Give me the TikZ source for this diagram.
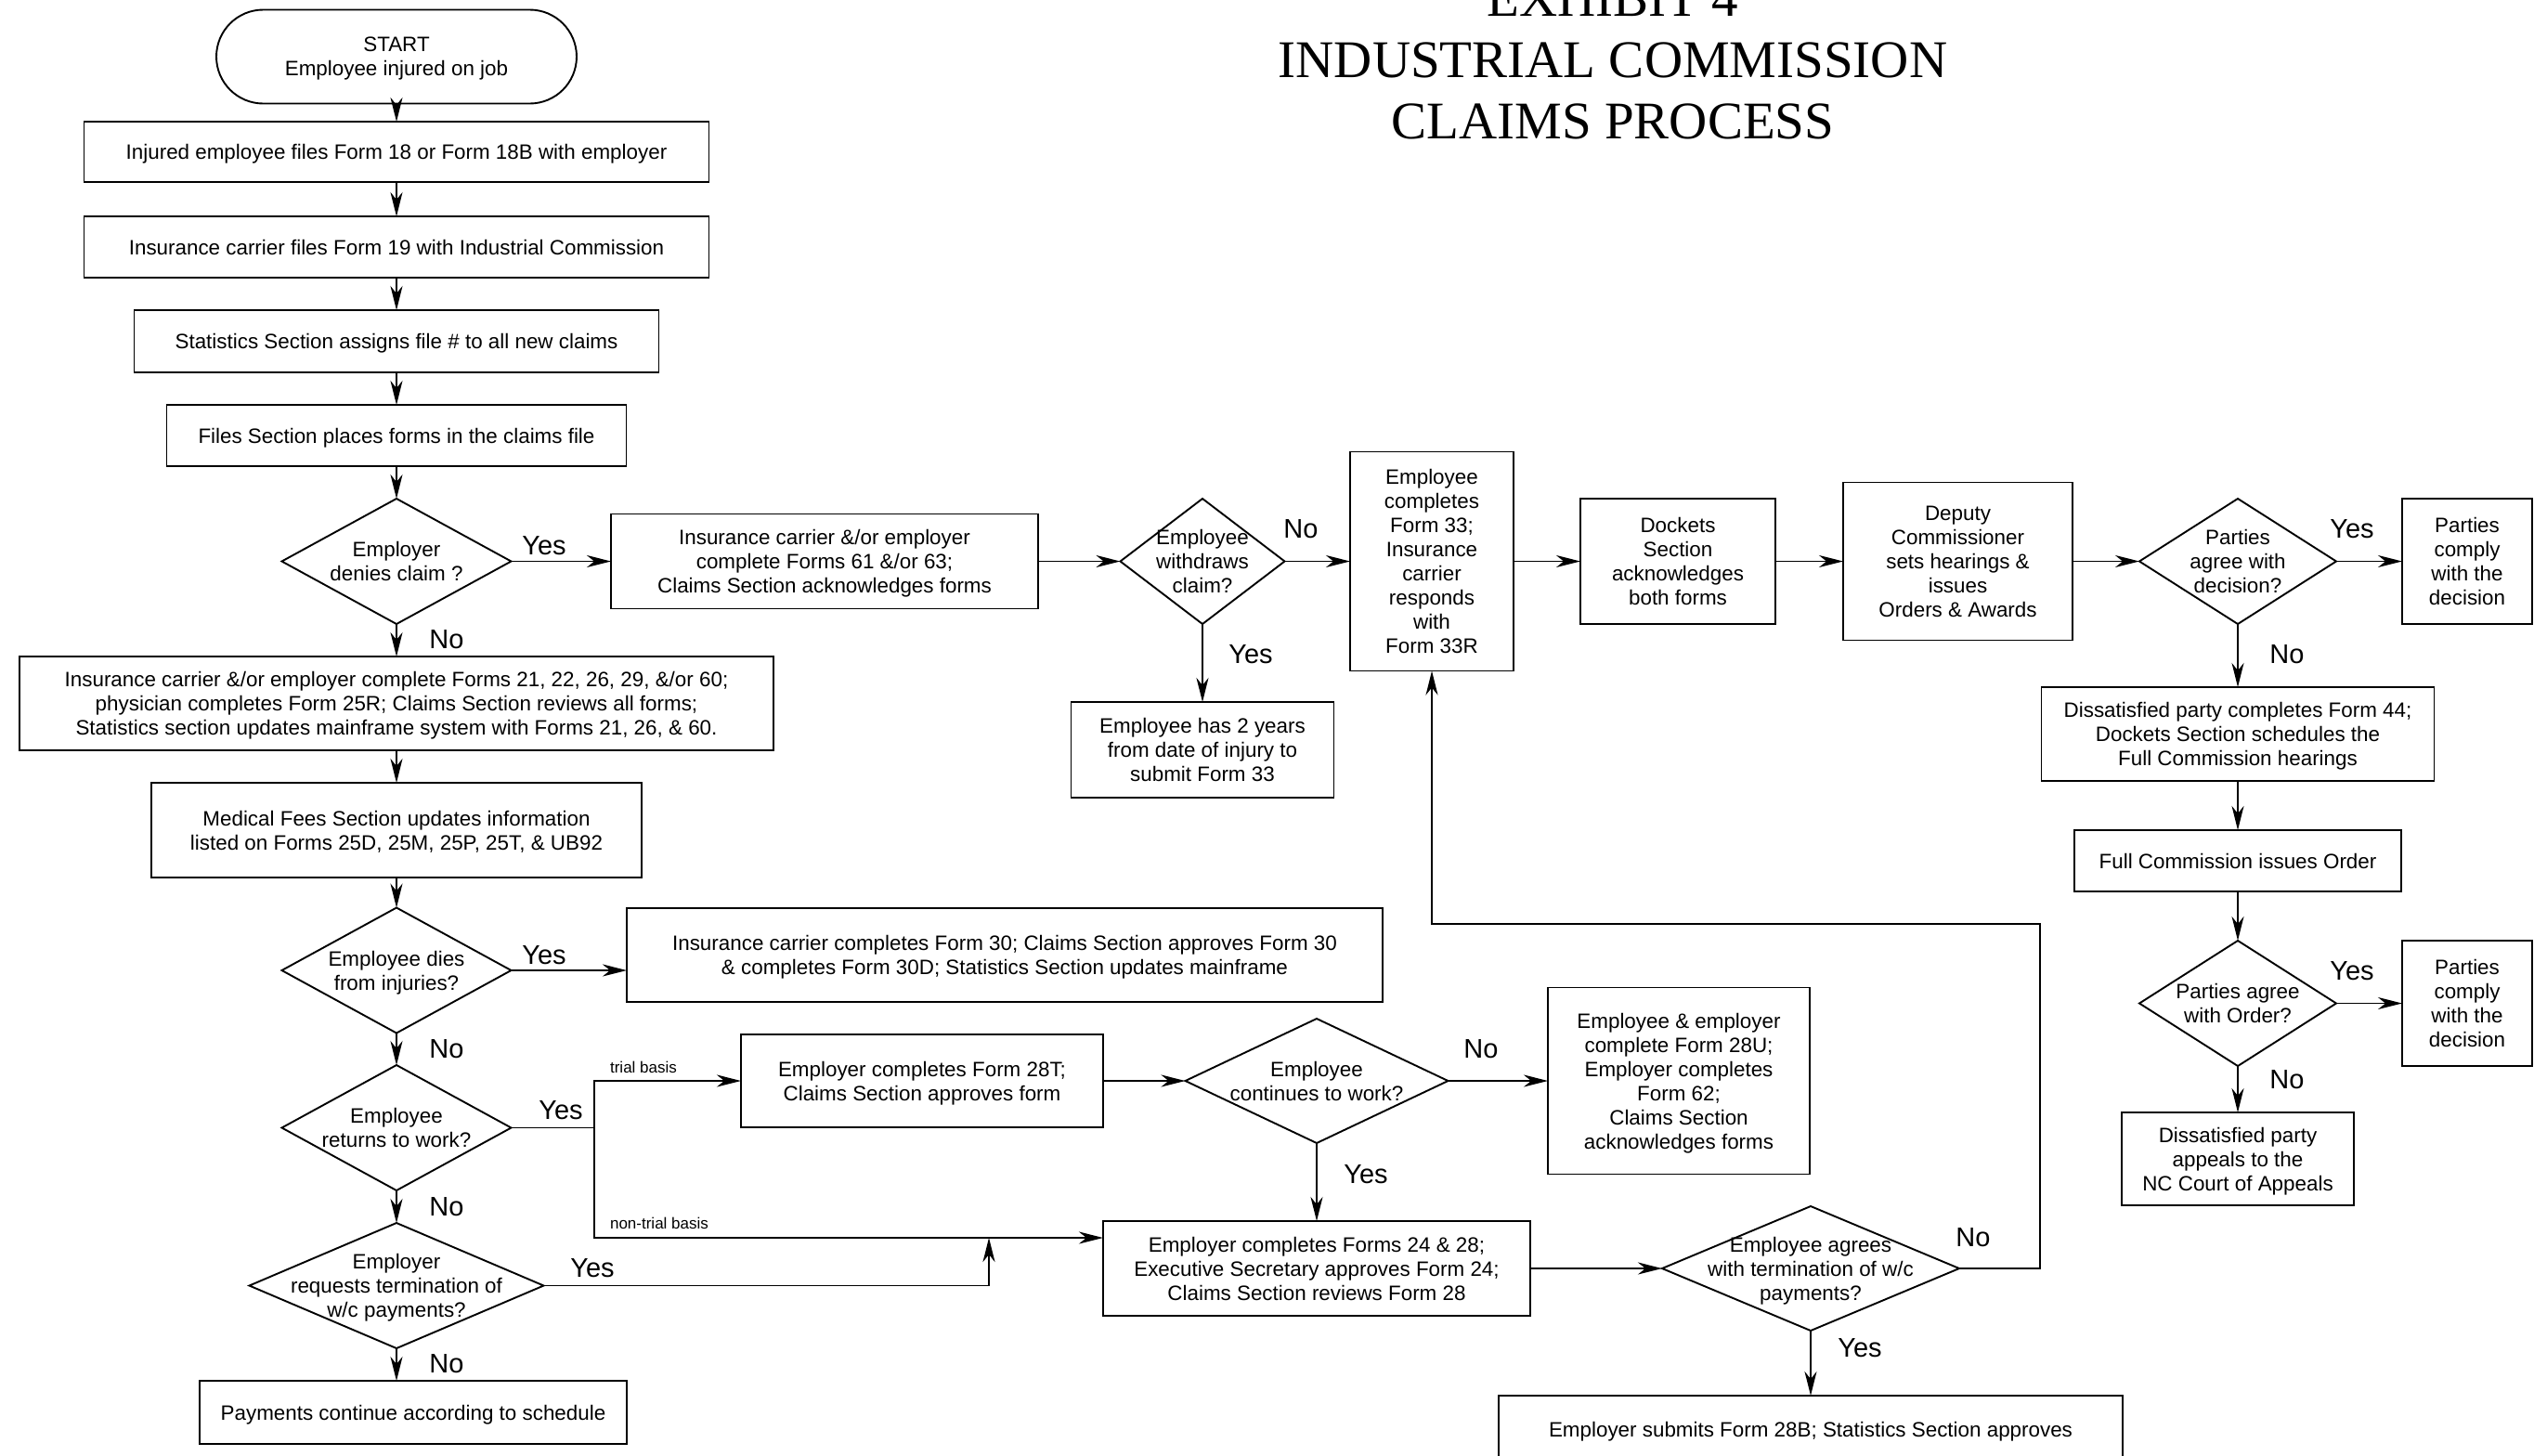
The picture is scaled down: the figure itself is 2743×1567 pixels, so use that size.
\documentclass[tikz,border=0pt]{standalone}
\usepackage{fontspec}
\setmainfont{Liberation Sans}
\newfontfamily\titlefont{Liberation Serif}
\usetikzlibrary{shapes.geometric,shapes.misc,arrows.meta}
\newcommand{\dtxt}[1]{\raisebox{-0.36em}[0pt][0pt]{\makebox[0pt]{\begin{tabular}{@{}c@{}}#1\end{tabular}}}}

\begin{document}
\begin{tikzpicture}[x=1pt, y=-1pt, line width=1.9pt,
  every node/.style={font=\fontsize{22.4}{26}\selectfont, inner sep=0pt, outer sep=0pt},
  box/.style={draw, rectangle, align=center, text depth=-3pt},
  decision/.style={draw, diamond},
  arr/.style={-{Stealth[length=26pt, width=13pt, inset=8pt]}},
  yn/.style={font=\fontsize{29}{34}\selectfont},
  basis/.style={font=\fontsize{17}{20}\selectfont}]
\useasboundingbox (0,0) rectangle (2743,1567);

\node[font=\titlefont\fontsize{57}{66}\selectfont, align=center] (title) at (1737,65)
  {EXHIBIT 4\\INDUSTRIAL COMMISSION\\CLAIMS PROCESS};

% left column
\node[draw, rounded rectangle, align=center, text depth=-3pt, minimum width=388, minimum height=101] (start) at (427,61)
  {START\\Employee injured on job};
\node[box, minimum width=673, minimum height=65] (form18) at (427,163.5)
  {Injured employee files Form 18 or Form 18B with employer};
\node[box, minimum width=673, minimum height=66] (form19) at (427,266)
  {Insurance carrier files Form 19 with Industrial Commission};
\node[box, minimum width=565, minimum height=67] (filenum) at (427,367.5)
  {Statistics Section assigns file \# to all new claims};
\node[box, minimum width=495, minimum height=66] (filesec) at (427,469)
  {Files Section places forms in the claims file};
\node[decision, minimum width=247, minimum height=135] (denies) at (427,604.5)
  {\dtxt{Employer\\denies claim ?}};
\node[box, minimum width=812, minimum height=101] (form21) at (427,757.5)
  {Insurance carrier \&/or employer complete Forms 21, 22, 26, 29, \&/or 60;\\
   physician completes Form 25R; Claims Section reviews all forms;\\
   Statistics section updates mainframe system with Forms 21, 26, \& 60.};
\node[box, minimum width=528, minimum height=102] (medfees) at (427,894)
  {Medical Fees Section updates information\\listed on Forms 25D, 25M, 25P, 25T, \& UB92};
\node[decision, minimum width=247, minimum height=135] (dies) at (427,1045)
  {\dtxt{Employee dies\\from injuries?}};
\node[decision, minimum width=247, minimum height=135] (returns) at (427,1214.5)
  {\dtxt{Employee\\returns to work?}};
\node[decision, minimum width=317, minimum height=135] (requests) at (427,1384.5)
  {\dtxt{Employer\\requests termination of\\w/c payments?}};
\node[box, minimum width=460, minimum height=68] (paycont) at (445,1521)
  {Payments continue according to schedule};

% top row
\node[box, minimum width=460, minimum height=102] (form61) at (888,604.5)
  {Insurance carrier \&/or employer\\complete Forms 61 \&/or 63;\\Claims Section acknowledges forms};
\node[decision, minimum width=177, minimum height=135] (withdraws) at (1295,604.5)
  {\dtxt{Employee\\withdraws\\claim?}};
\node[box, minimum width=283, minimum height=103] (twoyears) at (1295,807.5)
  {Employee has 2 years\\from date of injury to\\submit Form 33};
\node[box, minimum width=176, minimum height=236] (form33) at (1542,604.5)
  {Employee\\completes\\Form 33;\\Insurance\\carrier\\responds\\with\\Form 33R};
\node[box, minimum width=210, minimum height=135] (dockets) at (1807,604.5)
  {Dockets\\Section\\acknowledges\\both forms};
\node[box, minimum width=247, minimum height=170] (deputy) at (2108.5,604.5)
  {Deputy\\Commissioner\\sets hearings \&\\issues\\Orders \& Awards};
\node[decision, minimum width=212, minimum height=135] (agreedec) at (2410,604.5)
  {\dtxt{Parties\\agree with\\decision?}};
\node[box, minimum width=140, minimum height=135] (comply1) at (2657,604.5)
  {Parties\\comply\\with the\\decision};
\node[box, minimum width=423, minimum height=101] (form44) at (2410,790.5)
  {Dissatisfied party completes Form 44;\\Dockets Section schedules the\\Full Commission hearings};
\node[box, minimum width=352, minimum height=66] (fullord) at (2410,927)
  {Full Commission issues Order};
\node[decision, minimum width=212, minimum height=135] (agreeord) at (2410,1080.5)
  {\dtxt{Parties agree\\with Order?}};
\node[box, minimum width=140, minimum height=135] (comply2) at (2657,1080.5)
  {Parties\\comply\\with the\\decision};
\node[box, minimum width=250, minimum height=100] (appeals) at (2410,1248)
  {Dissatisfied party\\appeals to the\\NC Court of Appeals};

% lower middle
\node[box, minimum width=814, minimum height=101] (form30) at (1082,1028.5)
  {Insurance carrier completes Form 30; Claims Section approves Form 30\\
   \& completes Form 30D; Statistics Section updates mainframe};
\node[box, minimum width=390, minimum height=100] (form28t) at (993,1164)
  {Employer completes Form 28T;\\Claims Section approves form};
\node[decision, minimum width=283, minimum height=134] (continues) at (1418,1164)
  {\dtxt{Employee\\continues to work?}};
\node[box, minimum width=282, minimum height=201] (form28u) at (1808,1164)
  {Employee \& employer\\complete Form 28U;\\Employer completes\\Form 62;\\Claims Section\\acknowledges forms};
\node[box, minimum width=460, minimum height=102] (form24) at (1418,1366)
  {Employer completes Forms 24 \& 28;\\Executive Secretary approves Form 24;\\Claims Section reviews Form 28};
\node[decision, minimum width=320, minimum height=134] (agreeterm) at (1950,1366)
  {\dtxt{Employee agrees\\with termination of w/c\\payments?}};
\node[box, minimum width=672, minimum height=72] (form28b) at (1950,1539)
  {Employer submits Form 28B; Statistics Section approves};

% Yes / No labels
\foreach \n/\x/\y/\t in {y1/586/588/Yes, n1/481/689/No, n2/1401/570/No, y2/1347/705/Yes,
    y3/2533/570/Yes, n3/2463/705/No, y4/2533/1046/Yes, n4/2463/1163/No,
    y5/586/1029/Yes, n5/481/1130/No, y6/604/1196/Yes, n6/481/1300/No,
    y7/638/1366/Yes, n7/481/1469/No, n8/1595/1130/No, y8/1471/1265/Yes,
    n9/2125/1333/No, y9/2003/1452/Yes} {
  \node[yn] (\n) at (\x,\y) {\t};
}
\node[basis] (tb) at (693,1149) {trial basis};
\node[basis] (ntb) at (710,1317) {non-trial basis};

\coordinate (split) at (640,1214.5);
\coordinate (join) at (1065,1333);
\coordinate (back) at (2197,995);

% connectors
\foreach \a/\b in {start/form18, form18/form19, form19/filenum, filenum/filesec,
    filesec/denies, denies/form61, form61/withdraws, withdraws/form33, withdraws/twoyears,
    form33/dockets, dockets/deputy, deputy/agreedec, agreedec/comply1, agreedec/form44,
    form44/fullord, fullord/agreeord, agreeord/comply2, agreeord/appeals,
    denies/form21, form21/medfees, medfees/dies, dies/returns, returns/requests,
    form28t/continues, continues/form28u, continues/form24, form24/agreeterm,
    agreeterm/form28b} {
  \draw[arr] (\a) -- (\b);
}
\draw[arr] (dies) -- (dies -| form30.west);
\draw[arr] (requests.south) -- (requests.south |- paycont.north);
\draw (returns) -- (split);
\draw[arr] (split) |- (form28t);
\draw[arr] (split) |- ([yshift=33pt]form24.west);
\draw[arr] (requests) -| (join);
\draw[arr] (agreeterm) -| (back) -| (form33);
\end{tikzpicture}
\end{document}
